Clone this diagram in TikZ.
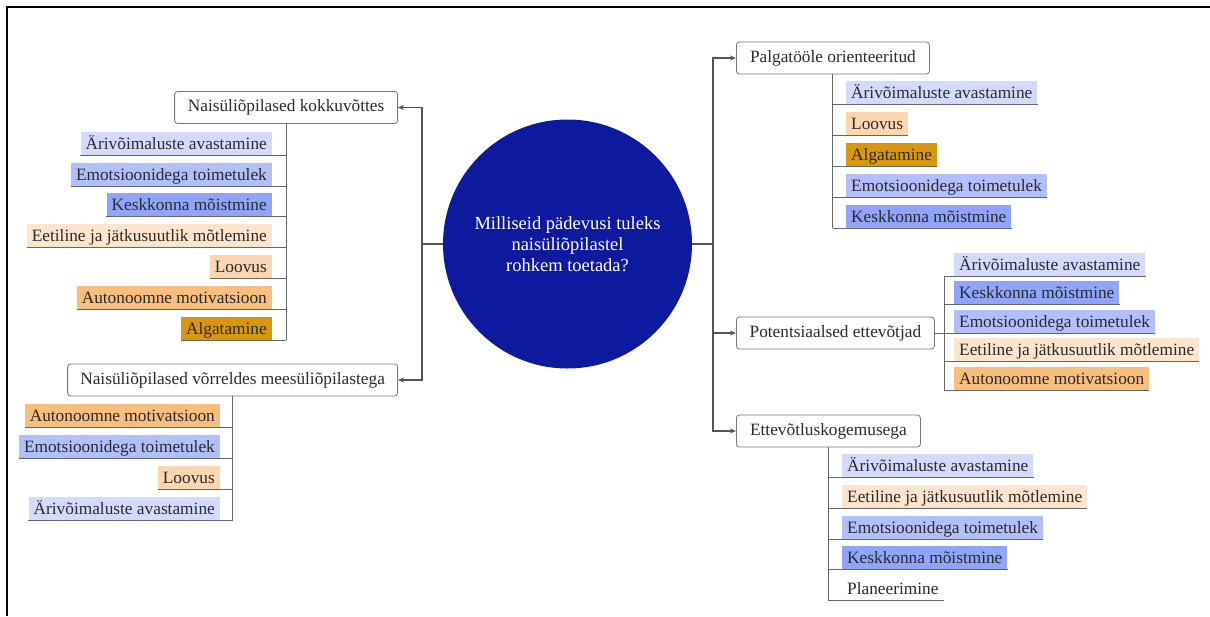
\documentclass[tikz,border=0pt]{standalone}
\usepackage{fontspec}
\setmainfont{Liberation Serif}
\usetikzlibrary{arrows.meta}
\definecolor{cA}{HTML}{D3DAFD}
\definecolor{cE}{HTML}{B3BEFC}
\definecolor{cK}{HTML}{90A4FA}
\definecolor{cT}{HTML}{FDE4CC}
\definecolor{cL}{HTML}{FBD6B0}
\definecolor{cM}{HTML}{F7BE7E}
\definecolor{cG}{HTML}{D8970F}
\definecolor{cblue}{HTML}{0E1A9E}
\definecolor{txt}{HTML}{2B2B2B}
\definecolor{ln}{HTML}{555555}
\tikzset{
  lbl/.style={inner xsep=5pt, inner ysep=2.75pt, text height=14.5pt, text depth=3pt,
    font=\fontsize{17.3}{20}\selectfont, text=txt},
  lblL/.style={lbl, anchor=south east},
  lblR/.style={lbl, anchor=south west},
  catbox/.style={draw=ln!80, line width=0.8pt, rounded corners=3pt, fill=white,
    minimum height=32pt, inner xsep=8pt, font=\fontsize{17.3}{20}\selectfont, text=txt},
  trunk/.style={draw=ln, line width=1.7pt},
  arr/.style={trunk, -{Stealth[length=6pt,width=5pt]}},
  sub/.style={draw=ln!90, line width=0.9pt},
}
\begin{document}
\begin{tikzpicture}[x=1pt,y=-1pt]
\useasboundingbox (0,0) rectangle (1210,616);
\draw[line width=2pt, black] (6.5,616) -- (6.5,7) -- (1210,7);

% centre
\node[circle, fill=cblue, minimum size=249pt, inner sep=0pt, text=white, align=center,
  font=\fontsize{18.5}{21}\selectfont] (c) at (567.5,244)
  {Milliseid pädevusi tuleks\\naisüliõpilastel\\rohkem toetada?};

% category boxes
\node[catbox, minimum width=223pt, anchor=east] (b1) at (398,107.5) {Naisüliõpilased kokkuvõttes};
\node[catbox, minimum width=330pt, anchor=east] (b2) at (398,380) {Naisüliõpilased võrreldes meesüliõpilastega};
\node[catbox, minimum width=193pt, anchor=west] (b3) at (736,58) {Palgatööle orienteeritud};
\node[catbox, minimum width=198pt, anchor=west] (b4) at (736,333) {Potentsiaalsed ettevõtjad};
\node[catbox, minimum width=184pt, anchor=west] (b5) at (736,431) {Ettevõtluskogemusega};

% trunks
\coordinate (lt) at (422,244);
\coordinate (rt) at (713,244);
\draw[trunk] (c.west) -- (lt);
\draw[trunk] (c.east) -- (rt);
\draw[arr] (lt) |- (b1.east);
\draw[arr] (lt) |- (b2.east);
\draw[arr] (rt) |- (b3.west);
\draw[arr] (rt) |- (b4.west);
\draw[arr] (rt) |- (b5.west);

% group 1
\node[lblL, fill=cA] (a1) at (272,155) {Ärivõimaluste avastamine};
\node[lblL, fill=cE] (a2) at (272,186) {Emotsioonidega toimetulek};
\node[lblL, fill=cK] (a3) at (272,216.5) {Keskkonna mõistmine};
\node[lblL, fill=cT] (a4) at (272,247.5) {Eetiline ja jätkusuutlik mõtlemine};
\node[lblL, fill=cL] (a5) at (272,278) {Loovus};
\node[lblL, fill=cM] (a6) at (272,309) {Autonoomne motivatsioon};
\node[lblL, fill=cG] (a7) at (272,340) {Algatamine};
\draw[sub] (b1.south) -- (b1.south |- a7.south);
\foreach \n in {a1,a2,a3,a4,a5,a6,a7}
  \draw[sub] (\n.south west) -- (\n.south west -| b1.south);

% group 2
\node[lblL, fill=cM] (d1) at (220,427) {Autonoomne motivatsioon};
\node[lblL, fill=cE] (d2) at (220,458) {Emotsioonidega toimetulek};
\node[lblL, fill=cL] (d3) at (220,489) {Loovus};
\node[lblL, fill=cA] (d4) at (220,520) {Ärivõimaluste avastamine};
\draw[sub] (b2.south) -- (b2.south |- d4.south);
\foreach \n in {d1,d2,d3,d4}
  \draw[sub] (\n.south west) -- (\n.south west -| b2.south);

% group 3
\node[lblR, fill=cA] (p1) at (846,104) {Ärivõimaluste avastamine};
\node[lblR, fill=cL] (p2) at (846,135) {Loovus};
\node[lblR, fill=cG] (p3) at (846,166) {Algatamine};
\node[lblR, fill=cE] (p4) at (846,197) {Emotsioonidega toimetulek};
\node[lblR, fill=cK] (p5) at (846,228) {Keskkonna mõistmine};
\draw[sub] (b3.south) -- (b3.south |- p5.south);
\foreach \n in {p1,p2,p3,p4,p5}
  \draw[sub] (\n.south east) -- (\n.south east -| b3.south);

% group 4
\coordinate (v4) at (944,333);
\node[lblR, fill=cA] (q1) at (954,276) {Ärivõimaluste avastamine};
\node[lblR, fill=cK] (q2) at (954,304.5) {Keskkonna mõistmine};
\node[lblR, fill=cE] (q3) at (954,333.5) {Emotsioonidega toimetulek};
\node[lblR, fill=cT] (q4) at (954,361.5) {Eetiline ja jätkusuutlik mõtlemine};
\node[lblR, fill=cM] (q5) at (954,390) {Autonoomne motivatsioon};
\draw[sub] (b4.east) -- (v4);
\draw[sub] (v4 |- q1.south) -- (v4 |- q5.south);
\foreach \n in {q1,q2,q3,q4,q5}
  \draw[sub] (\n.south east) -- (\n.south east -| v4);

% group 5
\node[lblR, fill=cA] (e1) at (842,477) {Ärivõimaluste avastamine};
\node[lblR, fill=cT] (e2) at (842,508) {Eetiline ja jätkusuutlik mõtlemine};
\node[lblR, fill=cE] (e3) at (842,539) {Emotsioonidega toimetulek};
\node[lblR, fill=cK] (e4) at (842,569.5) {Keskkonna mõistmine};
\node[lblR] (e5) at (842,600) {Planeerimine};
\draw[sub] (b5.south) -- (b5.south |- e5.south);
\foreach \n in {e1,e2,e3,e4,e5}
  \draw[sub] (\n.south east) -- (\n.south east -| b5.south);
\end{tikzpicture}
\end{document}
